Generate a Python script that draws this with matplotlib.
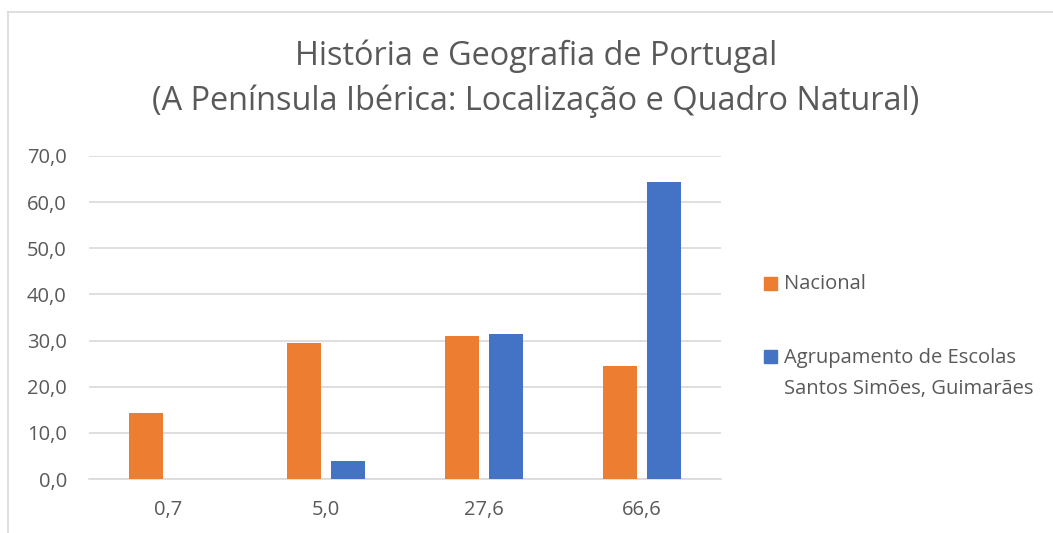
import numpy as np
import matplotlib
matplotlib.use('Agg')
import matplotlib.pyplot as plt
from matplotlib.patches import Rectangle
from matplotlib.lines import Line2D

# Données
categorias = ['0,7', '5,0', '27,6', '66,6']
nacional = [14.2, 29.4, 31.0, 24.4]
agrupamento = [0.0, 4.0, 31.4, 64.3]
series_nomes = ['Nacional', 'Agrupamento de Escolas\nSantos Simões, Guimarães']
titulo_linhas = ['História e Geografia de Portugal',
                 '(A Península Ibérica: Localização e Quadro Natural)']

laranja = '#ED7D31'
azul = '#4472C4'
cinza_texto = '#595959'
cinza_grelha = '#D9D9D9'

plt.rcParams['font.family'] = ['Open Sans', 'DejaVu Sans']

W, H = 1053, 533
fig = plt.figure(figsize=(W / 100, H / 100), dpi=100)
ax = fig.add_axes([89 / W, 1 - 479 / H, (721 - 89) / W, (479 - 156) / H])

x = np.arange(len(categorias))
largura = 0.215
desvio = 0.142
ax.bar(x - desvio, nacional, largura, color=laranja, zorder=3)
ax.bar(x + desvio, agrupamento, largura, color=azul, zorder=3)

ax.set_xlim(-0.5, len(categorias) - 0.5)
ax.set_ylim(0, 70)
ax.set_yticks(np.arange(0, 71, 10))
ax.set_yticklabels([f'{v:.1f}'.replace('.', ',') for v in np.arange(0, 71, 10)])
ax.set_xticks(x)
ax.set_xticklabels(categorias)
ax.tick_params(axis='both', length=0, labelsize=14.5, colors=cinza_texto)
ax.tick_params(axis='x', pad=15)
ax.tick_params(axis='y', pad=16)
ax.grid(axis='y', color=cinza_grelha, linewidth=1.2, zorder=0)
for lado in ['top', 'right', 'left']:
    ax.spines[lado].set_visible(False)
ax.spines['bottom'].set_color(cinza_grelha)
ax.spines['bottom'].set_linewidth(1.2)

# Titre sur deux lignes
fig.text(536 / W, 1 - 65 / H, titulo_linhas[0], ha='center', va='baseline',
         fontsize=23.4, color=cinza_texto)
fig.text(536 / W, 1 - 110 / H, titulo_linhas[1], ha='center', va='baseline',
         fontsize=23.4, color=cinza_texto)

# Légende
fig.add_artist(Rectangle((764 / W, 1 - 290 / H), 13 / W, 13 / H, color=laranja,
                         transform=fig.transFigure))
fig.add_artist(Rectangle((764 / W, 1 - 363 / H), 13 / W, 13 / H, color=azul,
                         transform=fig.transFigure))
fig.text(784 / W, 1 - 289 / H, series_nomes[0], fontsize=14.5, color=cinza_texto, va='baseline')
linhas_leg = series_nomes[1].split('\n')
fig.text(784 / W, 1 - 363 / H, linhas_leg[0], fontsize=14.5, color=cinza_texto, va='baseline')
fig.text(784 / W, 1 - 394 / H, linhas_leg[1], fontsize=14.5, color=cinza_texto, va='baseline')

# Bordure de la zone du graphique
fig.add_artist(Line2D([8 / W, 8 / W], [0, 1 - 12 / H], color=cinza_grelha, linewidth=1.2))
fig.add_artist(Line2D([8 / W, 1], [1 - 12 / H, 1 - 12 / H], color=cinza_grelha, linewidth=1.2))

fig.savefig('out.png', dpi=100, facecolor='white')
